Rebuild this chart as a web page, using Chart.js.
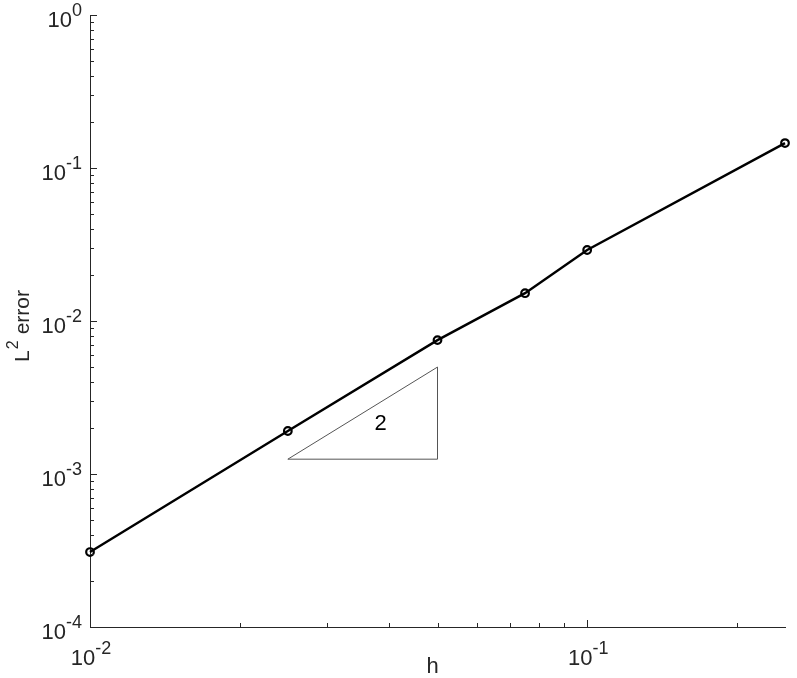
<!DOCTYPE html>
<html>
<head>
<meta charset="utf-8">
<script src="https://cdn.jsdelivr.net/npm/chart.js@4/dist/chart.umd.min.js"></script>
<style>
  body { margin: 0; background: #fff; }
  #wrap { width: 797px; height: 678px; }
</style>
</head>
<body>
<div id="wrap"><canvas id="errChart"></canvas></div>
<script>
// mesh size h and L2 error
var hValues = [0.01, 0.025, 0.05, 0.075, 0.1, 0.25];
var errValues = [0.000309, 0.00191, 0.0075, 0.0152, 0.0291, 0.1455];

// slope triangle (order 2)
var triH = [0.025, 0.05, 0.05, 0.025];
var triErr = [0.00125, 0.00125, 0.005, 0.00125];
var triLabel = '2';
var triLabelAt = [0.0384, 0.00212];

// decade tick exponents
var xTickExps = [-2, -1];
var yTickExps = [-4, -3, -2, -1, 0];

var axisColor = '#262626';
var fontName = '"Liberation Sans", Arial, Helvetica, sans-serif';
var mainSize = 22;
var expSize = 18;

function toPoints(xs, ys) {
    var pts = [];
    for (var i = 0; i < xs.length; i++) {
        pts.push({ x: xs[i], y: ys[i] });
    }
    return pts;
}

// minor + major tick values between min and max of a log axis
function logTicks(min, max) {
    var out = [];
    var e0 = Math.floor(Math.log10(min));
    var e1 = Math.ceil(Math.log10(max));
    for (var e = e0; e <= e1; e++) {
        for (var m = 1; m <= 9; m++) {
            var v = m * Math.pow(10, e);
            if (v >= min * 0.999 && v <= max * 1.001) out.push({ v: v, major: m === 1 });
        }
    }
    return out;
}

function drawPow(ctx, x, y, exp, align) {
    // draws "10^exp" with baseline y; align: 'right' or 'center'
    ctx.font = mainSize + 'px ' + fontName;
    var baseW = ctx.measureText('10').width;
    ctx.font = expSize + 'px ' + fontName;
    var expW = ctx.measureText(String(exp)).width;
    var total = baseW + expW;
    var left = align === 'right' ? x - total : x - total / 2;
    ctx.textAlign = 'left';
    ctx.textBaseline = 'alphabetic';
    ctx.font = mainSize + 'px ' + fontName;
    ctx.fillText('10', left, y);
    ctx.font = expSize + 'px ' + fontName;
    ctx.fillText(String(exp), left + baseW, y - 11);
}

var axesPlugin = {
    id: 'matlabAxes',
    afterDraw: function (chart) {
        var ctx = chart.ctx;
        var xs = chart.scales.x;
        var ys = chart.scales.y;
        var area = chart.chartArea;
        ctx.save();
        ctx.strokeStyle = axisColor;
        ctx.fillStyle = axisColor;
        ctx.lineWidth = 1;

        // inward ticks
        logTicks(xs.min, xs.max).forEach(function (t) {
            var px = Math.round(xs.getPixelForValue(t.v)) + 0.5;
            var len = t.major ? 7 : 4;
            ctx.beginPath();
            ctx.moveTo(px, area.bottom);
            ctx.lineTo(px, area.bottom - len);
            ctx.stroke();
        });
        logTicks(ys.min, ys.max).forEach(function (t) {
            var py = Math.round(ys.getPixelForValue(t.v)) + 0.5;
            var len = t.major ? 7 : 4;
            ctx.beginPath();
            ctx.moveTo(area.left, py);
            ctx.lineTo(area.left + len, py);
            ctx.stroke();
        });

        // tick labels
        xTickExps.forEach(function (e) {
            var px = xs.getPixelForValue(Math.pow(10, e));
            drawPow(ctx, px + 1, area.bottom + 38, e, 'center');
        });
        yTickExps.forEach(function (e) {
            var py = ys.getPixelForValue(Math.pow(10, e));
            drawPow(ctx, area.left - 8, py + 12, e, 'right');
        });

        // axis titles
        ctx.font = mainSize + 'px ' + fontName;
        ctx.textAlign = 'center';
        ctx.textBaseline = 'alphabetic';
        ctx.fillText('h', (area.left + area.right) / 2 - 5, area.bottom + 46);

        ctx.save();
        ctx.translate(29, 326);
        ctx.rotate(-Math.PI / 2);
        ctx.textAlign = 'left';
        ctx.font = '21px ' + fontName;
        var lw = ctx.measureText('L').width;
        var ew = ctx.measureText('error').width;
        var tw = lw + 16 + ew;
        var sx = -tw / 2;
        ctx.fillText('L', sx, 0);
        ctx.font = '16px ' + fontName;
        ctx.fillText('2', sx + lw + 1, -11);
        ctx.font = '21px ' + fontName;
        ctx.fillText('error', sx + lw + 16, 0);
        ctx.restore();

        // slope label
        ctx.fillStyle = '#000';
        ctx.font = mainSize + 'px ' + fontName;
        ctx.textAlign = 'center';
        ctx.textBaseline = 'middle';
        ctx.fillText(triLabel, xs.getPixelForValue(triLabelAt[0]), ys.getPixelForValue(triLabelAt[1]));
        ctx.restore();
    }
};

var errChart = new Chart(document.getElementById('errChart'), {
    type: 'scatter',
    data: {
        datasets: [{
            label: 'L2 error',
            data: toPoints(hValues, errValues),
            showLine: true,
            clip: false,
            borderColor: '#000',
            borderWidth: 2.4,
            pointRadius: 3.8,
            pointBorderWidth: 2.2,
            pointBorderColor: '#000',
            pointBackgroundColor: 'rgba(255,255,255,0)',
            order: 1
        }, {
            label: 'slope',
            data: toPoints(triH, triErr),
            showLine: true,
            borderColor: '#555',
            borderWidth: 1,
            pointRadius: 0,
            order: 2
        }]
    },
    options: {
        responsive: true,
        maintainAspectRatio: false,
        animation: false,
        layout: { padding: { left: 90, right: 12, top: 15, bottom: 51 } },
        plugins: {
            legend: { display: false },
            tooltip: { enabled: false }
        },
        scales: {
            x: {
                type: 'logarithmic',
                min: 0.01,
                max: 0.25,
                ticks: { display: false },
                grid: { display: false, drawTicks: false },
                border: { display: true, color: axisColor, width: 1 },
                afterFit: function (s) { s.height = 0; }
            },
            y: {
                type: 'logarithmic',
                min: 0.0001,
                max: 1,
                ticks: { display: false },
                grid: { display: false, drawTicks: false },
                border: { display: true, color: axisColor, width: 1 },
                afterFit: function (s) { s.width = 0; }
            }
        }
    },
    plugins: [axesPlugin]
});
</script>
</body>
</html>
